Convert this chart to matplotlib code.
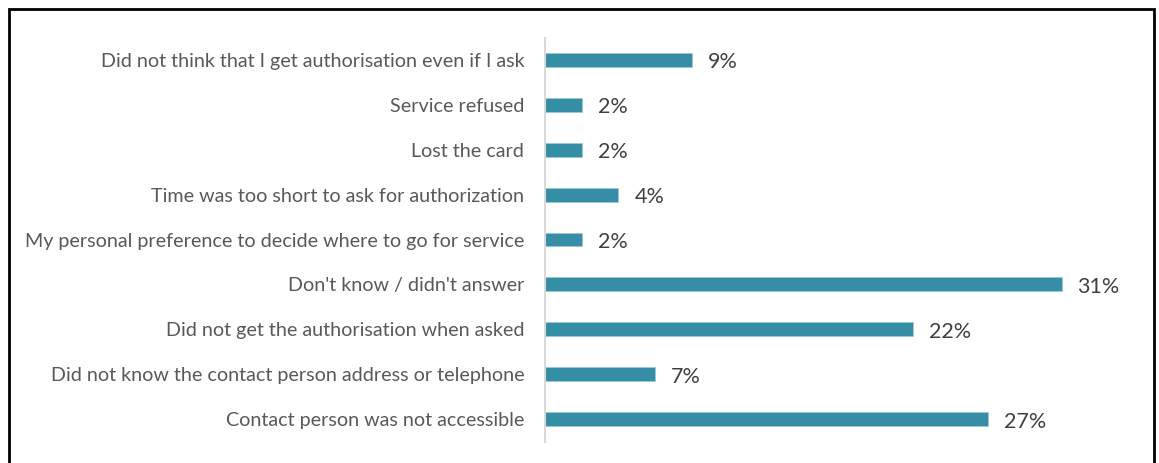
import matplotlib.pyplot as plt
from matplotlib.patches import Rectangle

categories = [
    "Contact person was not accessible",
    "Did not know the contact person address or telephone",
    "Did not get the authorisation when asked",
    "Don't know / didn't answer",
    "My personal preference to decide where to go for service",
    "Time was too short to ask for authorization",
    "Lost the card",
    "Service refused",
    "Did not think that I get authorisation even if I ask",
]
# bar lengths (labels are rounded)
values = [26.6, 6.6, 22.1, 31.0, 2.2, 4.4, 2.2, 2.2, 8.8]

W, H = 1159, 463
fig = plt.figure(figsize=(W / 100, H / 100), dpi=100)
plt.rcParams['font.family'] = ['Lato', 'DejaVu Sans']

# axes placed in pixel coords
left, right, top, bottom = 545, 1100, 37.5, 441.5
ax = fig.add_axes([left / W, (H - bottom) / H, (right - left) / W, (bottom - top) / H])

ypos = list(range(len(categories)))
ax.barh(ypos, values, height=0.31, color="#368ea6", edgecolor="#9cc9d6", linewidth=0.5)
ax.set_ylim(-0.5, len(categories) - 0.5)
ax.set_xlim(0, 31 * (right - left) / (1061.5 - left))

for y, v in zip(ypos, values):
    ax.annotate(f"{round(v)}%", (v, y), xytext=(11.5, -1.8), textcoords="offset points",
                va="center", ha="left", fontsize=15.5, color="#404040")

ax.set_yticks(ypos)
ax.set_yticklabels(categories, fontsize=14.2, color="#595959")
ax.tick_params(axis="y", length=0, pad=15)
ax.set_xticks([])
for s in ["top", "right", "bottom"]:
    ax.spines[s].set_visible(False)
ax.spines["left"].set_color("#d9d9d9")
ax.spines["left"].set_linewidth(1.5)

# outer frame
fig.patches.append(Rectangle((9 / W, -0.05), (1154 - 9) / W, 1.05 - 9 / H,
                             transform=fig.transFigure, fill=False,
                             edgecolor="black", linewidth=2))

fig.savefig("out.png", dpi=100)
